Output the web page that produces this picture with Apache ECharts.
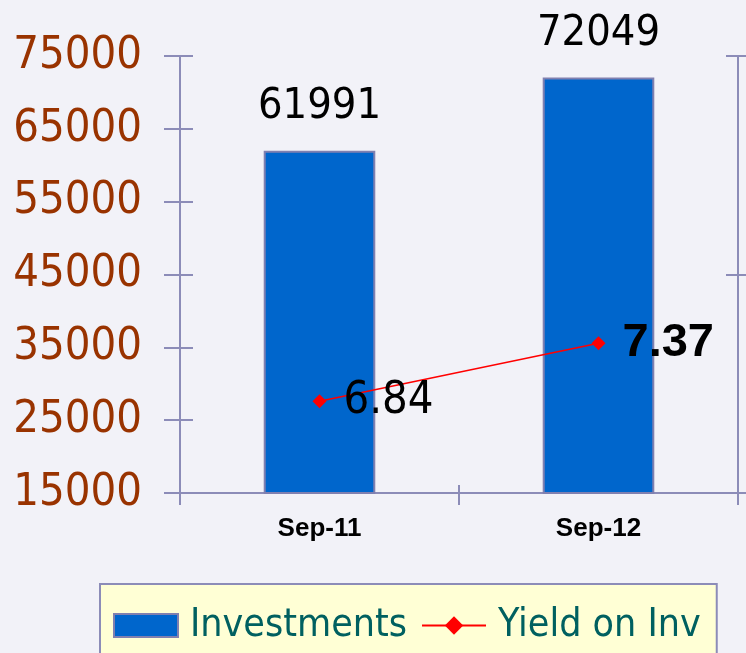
<!DOCTYPE html>
<html>
<head>
<meta charset="utf-8">
<script src="https://cdn.jsdelivr.net/npm/echarts@6/dist/echarts.min.js"></script>
<style>
html, body { margin: 0; padding: 0; background: #F2F2F8; }
#main { width: 746px; height: 653px; }
</style>
</head>
<body>
<div id="main"></div>
<script>
// 数据
var categories = ['Sep-11', 'Sep-12'];
var investments = [61991, 72049];
var yieldOnInv = [6.84, 7.37];
var leftTicks = [15000, 25000, 35000, 45000, 55000, 65000, 75000];

var myChart = echarts.init(document.getElementById('main'));

var axisColor = '#8C8CB8';
var condensed = '"DejaVu Sans Condensed", "DejaVu Sans", sans-serif';

// 折线标签样式（第二个点加粗）
var lineLabels = [
	{ fontFamily: condensed, fontSize: 45, fontWeight: 'normal' },
	{ fontFamily: '"Liberation Sans", Arial, sans-serif', fontSize: 47, fontWeight: 'bold' }
];

var option = {
	backgroundColor: '#F2F2F8',
	animation: false,
	grid: { left: 180, right: 8, top: 56, bottom: 160 },
	legend: {
		left: 100,
		top: 584,
		backgroundColor: '#FFFFD5',
		borderColor: axisColor,
		borderWidth: 2,
		borderRadius: 0,
		padding: [22, 16, 40, 13],
		itemWidth: 64,
		itemHeight: 23,
		itemGap: 14,
		textStyle: { color: '#006060', fontSize: 39, fontFamily: condensed, padding: [0, 0, 0, 7] },
		data: [{ name: 'Investments', icon: 'rect' }, { name: 'Yield on Inv' }]
	},
	xAxis: [{
		type: 'category',
		data: categories,
		boundaryGap: true,
		axisLine: { lineStyle: { color: axisColor, width: 2 } },
		axisTick: { show: true, inside: false, length: 12, lineStyle: { color: axisColor, width: 2 } },
		axisLabel: {
			color: '#000', fontSize: 26, fontWeight: 'bold',
			fontFamily: '"Liberation Sans", Arial, sans-serif', margin: 23
		}
	}, {
		type: 'category',
		data: categories,
		position: 'bottom',
		boundaryGap: true,
		axisLine: { show: false },
		axisTick: { show: true, inside: true, length: 8, lineStyle: { color: axisColor, width: 2 } },
		axisLabel: { show: false }
	}],
	yAxis: [{
		type: 'value',
		position: 'left',
		min: leftTicks[0],
		max: leftTicks[leftTicks.length - 1],
		interval: 10000,
		splitLine: { show: false },
		axisLine: { show: true, lineStyle: { color: axisColor, width: 2 } },
		axisTick: { show: true, length: 16, lineStyle: { color: axisColor, width: 2 } },
		axisLabel: {
			color: '#993300', fontSize: 45, fontFamily: condensed, margin: 38,
			formatter: function (v) { return String(v); }
		}
	}, {
		type: 'value',
		position: 'right',
		min: 6,
		max: 10,
		interval: 2,
		splitLine: { show: false },
		axisLine: { show: true, lineStyle: { color: axisColor, width: 2 } },
		axisTick: { show: true, inside: true, length: 12, lineStyle: { color: axisColor, width: 2 } },
		axisLabel: { show: false }
	}, {
		type: 'value',
		position: 'left',
		min: leftTicks[0],
		max: leftTicks[leftTicks.length - 1],
		interval: 10000,
		splitLine: { show: false },
		axisLine: { show: false },
		axisTick: { show: true, inside: true, length: 13, lineStyle: { color: axisColor, width: 2 } },
		axisLabel: { show: false }
	}, {
		type: 'value',
		position: 'right',
		min: 6,
		max: 10,
		interval: 2,
		splitLine: { show: false },
		axisLine: { show: false },
		axisTick: { show: true, inside: false, length: 12, lineStyle: { color: axisColor, width: 2 } },
		axisLabel: { show: false }
	}],
	series: [{
		name: 'Investments',
		type: 'bar',
		yAxisIndex: 0,
		barWidth: '40%',
		data: investments,
		itemStyle: { color: '#0066CC', borderColor: '#8080B0', borderWidth: 2 },
		label: {
			show: true,
			position: 'top',
			distance: 22,
			color: '#000',
			fontSize: 43,
			fontFamily: condensed
		}
	}, {
		name: 'Yield on Inv',
		type: 'line',
		yAxisIndex: 1,
		symbol: 'diamond',
		symbolSize: 14,
		z: 5,
		lineStyle: { color: '#FF0000', width: 1.5 },
		itemStyle: { color: '#FF0000' },
		data: yieldOnInv.map(function (v, i) {
			return {
				value: v,
				label: {
					show: true,
					position: 'right',
					distance: 17,
					color: '#000',
					fontSize: lineLabels[i].fontSize,
					fontFamily: lineLabels[i].fontFamily,
					fontWeight: lineLabels[i].fontWeight
				}
			};
		})
	}]
};

myChart.setOption(option);
</script>
</body>
</html>
